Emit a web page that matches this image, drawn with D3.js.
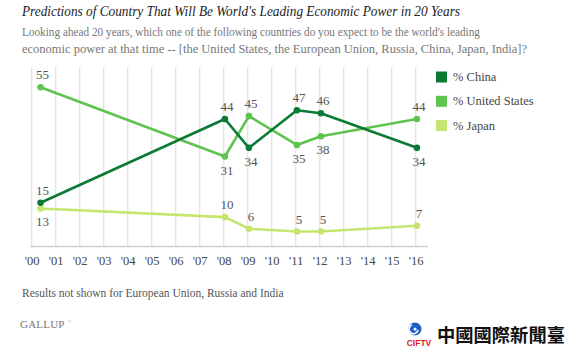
<!DOCTYPE html>
<html><head><meta charset="utf-8">
<script src="https://cdn.jsdelivr.net/npm/d3@7"></script>
<style>body{margin:0;background:#fff;}svg{display:block;}</style>
</head><body>
<script>
const surveyDates = [2000.37, 2008.05, 2009.05, 2011.05, 2012.05, 2016.05];
const china = [15, 44, 34, 47, 46, 34];
const unitedStates = [55, 31, 45, 35, 38, 44];
const japan = [13, 10, 6, 5, 5, 7];
const tickYears = d3.range(2000, 2017);
const tickLabels = tickYears.map(y => "'" + String(y).slice(2));
const seriesNames = ["% China", "% United States", "% Japan"];
const colors = ["#0b7a34", "#5ec34f", "#c5e56e"];
// label placement: above (-1) or below (+1)
const chinaPos = [-1, -1, 1, -1, -1, 1];
const usPos = [-1, 1, -1, 1, 1, -1];
const japanPos = [1, -1, -1, -1, -1, -1];

const W = 567, H = 353;
const svg = d3.select("body").append("svg").attr("width", W).attr("height", H);
const serif = "'Liberation Serif', serif";

const x = d3.scaleLinear().domain([2000, 2016]).range([31.7, 415.7]);
const y = d3.scaleLinear().domain([0, 62]).range([246, 67]);

svg.append("text").attr("x", 22).attr("y", 16).attr("font-family", serif)
  .attr("font-style", "italic").attr("font-size", 14.6).attr("fill", "#222")
  .attr("textLength", 438).attr("lengthAdjust", "spacingAndGlyphs")
  .text("Predictions of Country That Will Be World's Leading Economic Power in 20 Years");
const sub = ["Looking ahead 20 years, which one of the following countries do you expect to be the world's leading",
  "economic power at that time -- [the United States, the European Union, Russia, China, Japan, India]?"];
const subLen = [458, 505];
sub.forEach((t, i) => svg.append("text").attr("x", 22).attr("y", 36 + i * 16.5)
  .attr("font-family", serif).attr("font-size", 12.3).attr("fill", "#777")
  .attr("textLength", subLen[i]).attr("lengthAdjust", "spacingAndGlyphs").text(t));

// grid
svg.append("g").selectAll("line").data(tickYears).join("line")
  .attr("x1", d => x(d)).attr("x2", d => x(d)).attr("y1", 67).attr("y2", 246)
  .attr("stroke", "#e2e2e2").attr("stroke-width", 1.2);
svg.append("line").attr("x1", 30).attr("x2", 428).attr("y1", 246.5).attr("y2", 246.5)
  .attr("stroke", "#d0d0d0").attr("stroke-width", 1.5);

const xAxis = d3.axisBottom(x).tickValues(tickYears).tickFormat((d, i) => tickLabels[i]).tickSize(0).tickPadding(0);
const gx = svg.append("g").attr("transform", "translate(0,256)").call(xAxis);
gx.select(".domain").remove();
gx.selectAll("text").attr("font-family", serif).attr("font-size", 12.5).attr("fill", "#444");

const series = [
  {vals: china, pos: chinaPos, c: colors[0]},
  {vals: unitedStates, pos: usPos, c: colors[1]},
  {vals: japan, pos: japanPos, c: colors[2]}
];
const line = d3.line().x(d => x(d[0])).y(d => y(d[1]));
[2, 1, 0].forEach(k => {
  const s = series[k];
  const pts = surveyDates.map((d, i) => [d, s.vals[i]]);
  svg.append("path").datum(pts).attr("d", line).attr("fill", "none")
    .attr("stroke", s.c).attr("stroke-width", 2.6).attr("stroke-linejoin", "round");
  svg.append("g").selectAll("circle").data(pts).join("circle")
    .attr("cx", d => x(d[0])).attr("cy", d => y(d[1])).attr("r", 3.3).attr("fill", s.c);
});
series.forEach(s => {
  svg.append("g").selectAll("text").data(surveyDates).join("text")
    .attr("x", (d, i) => x(d) + 2)
    .attr("y", (d, i) => y(s.vals[i]) + (s.pos[i] < 0 ? -8 : 18))
    .attr("text-anchor", "middle").attr("font-family", serif)
    .attr("font-size", 13).attr("fill", "#555")
    .text((d, i) => s.vals[i]);
});

// legend
const lg = svg.append("g");
seriesNames.forEach((n, i) => {
  lg.append("rect").attr("x", 436).attr("y", 71.5 + i * 24.3).attr("width", 11).attr("height", 11).attr("fill", colors[i]);
  lg.append("text").attr("x", 453).attr("y", 81 + i * 24.3).attr("font-family", serif)
    .attr("font-size", 12.5).attr("fill", "#444").text(n);
});

svg.append("text").attr("x", 22).attr("y", 297).attr("font-family", serif)
  .attr("font-size", 11.5).attr("fill", "#555").text("Results not shown for European Union, Russia and India");
svg.append("text").attr("x", 20).attr("y", 328).attr("font-family", serif)
  .attr("font-size", 11).attr("fill", "#777").attr("letter-spacing", 0.2).text("GALLUP");
svg.append("text").attr("x", 68).attr("y", 323).attr("font-family", serif)
  .attr("font-size", 4).attr("fill", "#999").text("®");

// watermark logo
const lgX = 415, lgY = 329;
svg.append("circle").attr("cx", lgX).attr("cy", lgY).attr("r", 6.5).attr("fill", "#1a5fc8");
svg.append("path").attr("d", `M${lgX - 3},${lgY - 4} A4.5,4.5 0 1 0 ${lgX + 3},${lgY + 1}`)
  .attr("fill", "none").attr("stroke", "#fff").attr("stroke-width", 1.6);
svg.append("circle").attr("cx", lgX).attr("cy", lgY).attr("r", 1.6).attr("fill", "#fff");
svg.append("text").attr("x", 419).attr("y", 346).attr("text-anchor", "middle").attr("font-family", "'Liberation Sans', Arial, sans-serif")
  .attr("font-weight", "bold").attr("font-size", 8.5).attr("fill", "#e0201b").text("CIFTV");
svg.append("text").attr("x", 437).attr("y", 342).attr("font-family", "'Noto Sans CJK TC', 'Noto Sans CJK SC', sans-serif")
  .attr("font-weight", "bold").attr("font-size", 18.3).attr("fill", "#111").text("中國國際新聞臺");
</script>
</body></html>
